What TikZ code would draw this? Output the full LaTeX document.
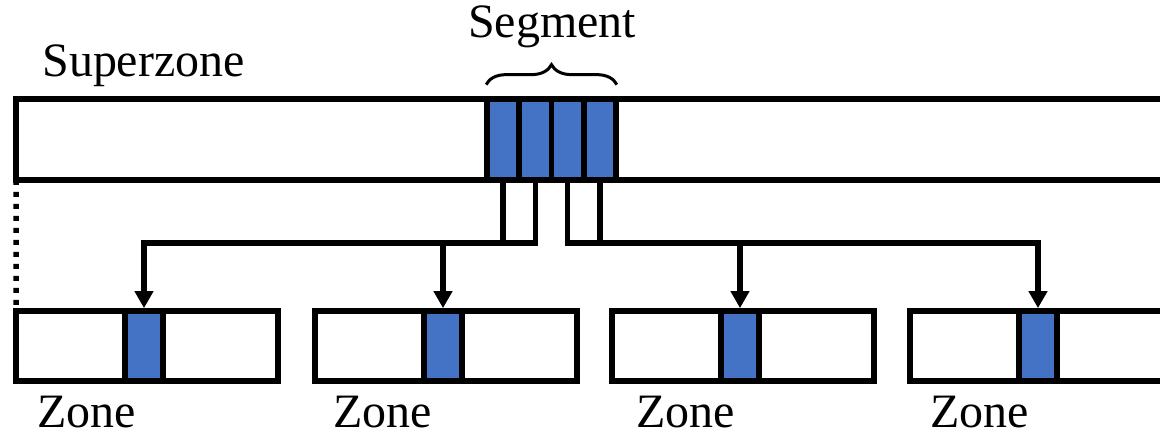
\documentclass[tikz,border=0pt]{standalone}
\usepackage{fontspec}
\setmainfont{Liberation Serif}
\newfontfamily\labelfont{Liberation Serif}
\usetikzlibrary{arrows.meta,calc,positioning,decorations.pathreplacing}
\definecolor{segblue}{RGB}{68,114,196}

\tikzset{
  box/.style={draw, line width=0.115cm, outer sep=0pt, inner sep=0pt},
  segcell/.style={draw, line width=0.115cm, fill=segblue, inner sep=0pt,
    minimum width=0.645cm, minimum height=1.62cm},
  zonecell/.style={draw, line width=0.115cm, fill=segblue, inner sep=0pt,
    minimum width=0.76cm, minimum height=1.4cm},
  lbl/.style={font=\labelfont\fontsize{27.3}{31}\selectfont, inner sep=0pt},
  link/.style={line width=0.11cm, line join=miter,
    -{Triangle[length=0.34cm,width=0.36cm]}},
  dotline/.style={line width=0.11cm, dash pattern=on 0.1cm off 0.14cm},
}

\begin{document}
\begin{tikzpicture}[x=0.02cm, y=-0.02cm]
	\useasboundingbox (0,0) rectangle (1160,436);

	% superzone strip with its four segments
	\node[box, minimum width=23.68cm, minimum height=1.62cm] (superzone) at (608,139.5) {};
	\foreach \i in {1,...,4}
		\node[segcell] (seg\i) at ({487+32.25*(\i-0.5)},139.5) {};
	\node[lbl, anchor=base west] (suplbl) at (42,76) {Superzone};

	% brace over the segments
	\draw[line width=0.06cm, decorate, decoration={brace, amplitude=0.4cm}]
		($(seg1.north west)+(2,-11.5)$) -- ($(seg4.north east)+(-2,-11.5)$);
	\node[lbl, anchor=base] (seglbl) at (552,37) {Segment};

	% zones
	\foreach \i/\x/\t in {1/16/37, 2/315/333, 3/612/636, 4/910/930} {
		\node[box, minimum width=5.24cm, minimum height=1.4cm] (zone\i) at (\x+131,346) {};
		\node[zonecell] (cell\i) at (\x+128,346) {};
		\node[lbl, anchor=base west] (zlbl\i) at (\t,427) {Zone};
	}

	\draw[dotline] (superzone.south west) -- (zone1.north west);

	% links from segments down to the zones
	\coordinate (bus) at (0,243);
	\draw[link] (seg1.south) -- (seg1.south |- bus) -| (cell1.north);
	\draw[link] (seg2.south) -- (seg2.south |- bus) -| (cell2.north);
	\draw[link] (seg3.south) -- (seg3.south |- bus) -| (cell3.north);
	\draw[link] (seg4.south) -- (seg4.south |- bus) -| (cell4.north);
\end{tikzpicture}
\end{document}
